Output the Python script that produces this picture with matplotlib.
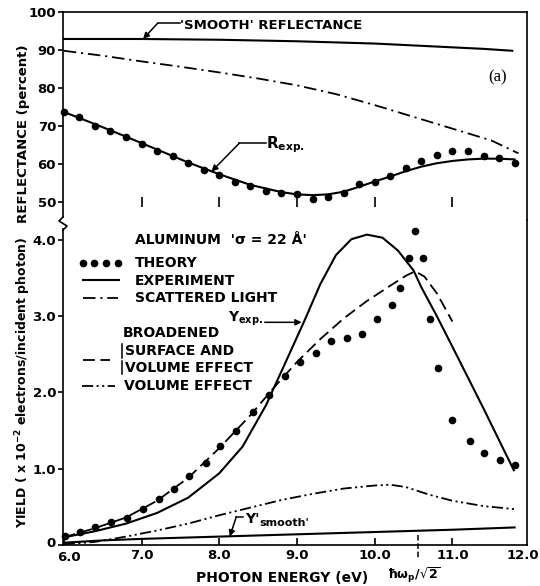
import matplotlib
matplotlib.use("Agg")
import matplotlib.pyplot as plt
from matplotlib.lines import Line2D
from matplotlib.transforms import ScaledTranslation

plt.rcParams["font.family"] = ["DejaVu Sans"]
plt.rcParams["lines.scale_dashes"] = False

# ---- reflectance panel ----
refl_theory_energy = [6.0, 6.2, 6.4, 6.6, 6.8, 7.0, 7.2, 7.4, 7.6, 7.8,
                      8.0, 8.2, 8.4, 8.6, 8.8, 9.0, 9.2, 9.4, 9.6, 9.8,
                      10.0, 10.2, 10.4, 10.6, 10.8, 11.0, 11.2, 11.4, 11.6, 11.8]
refl_theory = [73.8, 72.4, 70.0, 68.8, 67.0, 65.3, 63.5, 62.1, 60.2, 58.4,
               57.1, 55.3, 54.2, 53.0, 52.4, 52.0, 50.8, 51.4, 52.4, 54.7,
               55.3, 56.8, 59.0, 60.8, 62.3, 63.5, 63.4, 62.0, 61.6, 60.3]

refl_exp_energy = [6.0, 6.4, 6.8, 7.2, 7.6, 8.0, 8.4, 8.8, 9.0, 9.2, 9.4, 9.6,
                   9.8, 10.0, 10.2, 10.4, 10.6, 10.8, 11.0, 11.2, 11.4, 11.6, 11.8]
refl_exp = [73.7, 70.5, 67.2, 63.8, 60.4, 57.3, 54.5, 52.6, 52.0, 51.8, 52.0, 52.7,
            54.0, 55.4, 56.7, 58.1, 59.3, 60.2, 60.8, 61.2, 61.4, 61.4, 61.2]

refl_smooth_energy = [6.0, 7.0, 8.0, 9.0, 10.0, 10.5, 11.0, 11.4, 11.77]
refl_smooth = [92.9, 92.9, 92.7, 92.3, 91.7, 91.2, 90.7, 90.3, 89.8]

refl_scatter_energy = [6.0, 6.5, 7.0, 7.5, 8.0, 8.5, 9.0, 9.5, 10.0, 10.5,
                       11.0, 11.5, 11.85]
refl_scatter = [89.8, 88.5, 87.0, 85.6, 84.1, 82.5, 80.7, 78.4, 75.5, 72.4,
                69.3, 66.2, 62.8]

# ---- photoyield panel ----
yield_theory_energy = [6.02, 6.21, 6.40, 6.61, 6.81, 7.02, 7.23, 7.42, 7.61, 7.83,
                       8.01, 8.21, 8.44, 8.64, 8.84, 9.04, 9.25, 9.44, 9.64, 9.84,
                       10.03, 10.22, 10.33, 10.44, 10.52, 10.62, 10.71, 10.81,
                       11.00, 11.22, 11.40, 11.61, 11.81]
yield_theory = [0.12, 0.17, 0.23, 0.30, 0.36, 0.47, 0.60, 0.74, 0.91, 1.08,
                1.30, 1.50, 1.74, 1.97, 2.22, 2.40, 2.52, 2.67, 2.72, 2.77,
                2.96, 3.15, 3.37, 3.76, 4.12, 3.76, 2.97, 2.32,
                1.64, 1.36, 1.21, 1.11, 1.05]

yield_exp_energy = [6.0, 6.4, 6.8, 7.2, 7.6, 8.0, 8.3, 8.6, 8.9, 9.1, 9.3, 9.5,
                    9.7, 9.9, 10.1, 10.3, 10.5, 10.6, 10.8, 11.0, 11.4, 11.79]
yield_exp = [0.10, 0.18, 0.28, 0.42, 0.62, 0.94, 1.29, 1.83, 2.50, 2.95, 3.42, 3.80,
             4.01, 4.07, 4.03, 3.86, 3.60, 3.38, 3.00, 2.60, 1.79, 0.98]

broadened_energy = [6.0, 6.4, 6.8, 7.2, 7.6, 8.0, 8.4, 8.7, 9.0, 9.3, 9.6, 9.9,
                    10.2, 10.4, 10.52, 10.64, 10.8, 11.0]
broadened = [0.10, 0.22, 0.36, 0.58, 0.88, 1.27, 1.70, 2.06, 2.40, 2.70, 2.97, 3.20,
             3.40, 3.53, 3.59, 3.52, 3.30, 2.93]

volume_energy = [6.0, 6.4, 6.8, 7.2, 7.6, 8.0, 8.4, 8.8, 9.2, 9.6, 10.0, 10.2,
                 10.4, 10.7, 11.0, 11.4, 11.8]
volume = [0.01, 0.04, 0.11, 0.19, 0.28, 0.39, 0.49, 0.59, 0.67, 0.74, 0.78, 0.79,
          0.76, 0.66, 0.58, 0.51, 0.47]

smooth_yield_energy = [6.0, 6.5, 7.0, 8.0, 9.0, 10.0, 11.0, 11.8]
smooth_yield = [0.03, 0.06, 0.08, 0.11, 0.14, 0.17, 0.20, 0.23]

# ---- axes ----
x_ticks = [6.0, 7.0, 8.0, 9.0, 10.0, 11.0]
x_tick_labels = ["6.0", "7.0", "8.0", "9.0", "10.0", "11.0"]
refl_ticks = [50, 60, 70, 80, 90, 100]
refl_tick_labels = ["50", "60", "70", "80", "90", "100"]
yield_ticks = [0, 1, 2, 3, 4]
yield_tick_labels = ["0", "1.0", "2.0", "3.0", "4.0"]
plasmon_energy = 10.56  # hbar*omega_p / sqrt(2)

LW = 1.5
DASH_DOT = (0, (9, 3.5, 1.5, 3.5))
DASHED = (0, (8.5, 4))
DASH_DOT_DOT = (0, (8, 2.5, 1.5, 2.5, 1.5, 2.5))
BOLD = dict(fontweight="bold", color="black")
FS = 10

fig = plt.figure(figsize=(5.4, 5.86), dpi=100)
ax1 = fig.add_axes([0.1167, 0.6246, 0.8593, 0.3549])
ax2 = fig.add_axes([0.1167, 0.0700, 0.8593, 0.5546])

for ax in (ax1, ax2):
    ax.set_xlim(5.99, 11.96)
    for s in ax.spines.values():
        s.set_linewidth(1.2)
ax1.set_ylim(45.26, 100)
ax2.set_ylim(0, 4.262)
ax1.spines["bottom"].set_visible(False)
ax2.spines["top"].set_visible(False)
ax1.spines["left"].set_bounds(46.0, 100)
ax2.spines["left"].set_bounds(0, 4.14)

# broken-axis squiggle on the left spine
brk = [(63, 217), (59, 221), (67, 226), (63, 230)]
fig.add_artist(Line2D([p[0] / 540 for p in brk], [1 - p[1] / 586 for p in brk],
                      transform=fig.transFigure, color="black", lw=1.2))

ax1.set_yticks(refl_ticks)
ax1.set_yticklabels(refl_tick_labels)
ax1.tick_params(axis="y", direction="out", length=3.5, width=1.2, pad=1.5,
                labelsize=9.5)
ax1.tick_params(axis="x", bottom=False, labelbottom=False)
ax1.vlines(x_ticks[1:], 48.8, 51.2, color="black", lw=1.2)

ax2.set_yticks(yield_ticks)
ax2.set_yticklabels(yield_tick_labels)
ax2.set_xticks(x_ticks)
ax2.set_xticklabels(x_tick_labels)
ax2.tick_params(axis="y", direction="out", length=3.5, width=1.2, pad=1.5,
                labelsize=9.5)
ax2.tick_params(axis="x", direction="in", length=5, width=1.2, pad=3,
                labelsize=9.5)
for lab in ax1.get_yticklabels() + ax2.get_yticklabels() + ax2.get_xticklabels():
    lab.set_fontweight("bold")

# nudge the corner labels apart
first = ax2.xaxis.get_major_ticks()[0].label1
first.set_transform(first.get_transform() + ScaledTranslation(4 / 72, -1 / 72, fig.dpi_scale_trans))
zero = ax2.yaxis.get_major_ticks()[0].label1
zero.set_transform(zero.get_transform() + ScaledTranslation(0, 2 / 72, fig.dpi_scale_trans))

# last energy label sits just past the right spine
ax2.annotate("12.0", xy=(1, 0), xycoords="axes fraction",
             xytext=(8.6, -3), textcoords="offset points", ha="right", va="top",
             fontsize=9.5, annotation_clip=False, **BOLD)

# ---- reflectance curves ----
ax1.plot(refl_smooth_energy, refl_smooth, color="black", lw=LW)
ax1.plot(refl_scatter_energy, refl_scatter, color="black", lw=1.3, ls=DASH_DOT)
ax1.plot(refl_exp_energy, refl_exp, color="black", lw=LW)
ax1.plot(refl_theory_energy, refl_theory, "o", color="black", ms=4.5, clip_on=False)

ax1.text(7.49, 96.4, "'SMOOTH' REFLECTANCE", ha="left", va="center", fontsize=9.5, **BOLD)
ax1.plot([7.49, 7.21], [97.1, 97.1], color="black", lw=1.1)
ax1.annotate("", xy=(7.02, 92.9), xytext=(7.21, 97.1),
             arrowprops=dict(arrowstyle="-|>", color="black", lw=1.1,
                             mutation_scale=9, shrinkA=0, shrinkB=0))

ax1.text(8.60, 65.0, r"$\mathbf{R}_{\mathbf{exp.}}$", ha="left", va="center", fontsize=11)
ax1.plot([8.60, 8.26], [65.5, 65.5], color="black", lw=1.1)
ax1.annotate("", xy=(7.90, 58.0), xytext=(8.26, 65.5),
             arrowprops=dict(arrowstyle="-|>", color="black", lw=1.1,
                             mutation_scale=9, shrinkA=0, shrinkB=0))

ax1.text(11.58, 82.9, "(a)", family="Liberation Serif", fontsize=12,
         ha="center", va="center", color="black")

# ---- photoyield curves ----
ax2.plot(smooth_yield_energy, smooth_yield, color="black", lw=LW)
ax2.plot(volume_energy, volume, color="black", lw=1.3, ls=DASH_DOT_DOT)
ax2.plot(broadened_energy, broadened, color="black", lw=1.3, ls=DASHED)
ax2.plot(yield_exp_energy, yield_exp, color="black", lw=LW)
ax2.plot(yield_theory_energy, yield_theory, "o", color="black", ms=4.5, clip_on=False)

# plasmon marker on the energy axis
ax2.plot([plasmon_energy, plasmon_energy], [0.13, -0.20], color="black", lw=1.1,
         ls=(0, (4, 2)), clip_on=False)

# legend block
ax2.text(6.91, 4.0, "ALUMINUM  'σ = 22 Å'", ha="left", va="center", fontsize=FS, **BOLD)
ax2.plot([6.244, 6.386, 6.54, 6.695], [3.70] * 4, "o", color="black", ms=4.5)
ax2.text(6.91, 3.70, "THEORY", ha="left", va="center", fontsize=FS, **BOLD)
ax2.plot([6.244, 6.707], [3.475, 3.475], color="black", lw=LW)
ax2.text(6.91, 3.46, "EXPERIMENT", ha="left", va="center", fontsize=FS, **BOLD)
ax2.plot([6.244, 6.70], [3.24, 3.24], color="black", lw=1.3, ls=DASH_DOT)
ax2.text(6.91, 3.24, "SCATTERED LIGHT", ha="left", va="center", fontsize=FS, **BOLD)
ax2.text(6.76, 2.78, "BROADENED", ha="left", va="center", fontsize=FS, **BOLD)
ax2.plot([6.75, 6.75], [2.45, 2.63], color="black", lw=1.1)
ax2.plot([6.75, 6.75], [2.24, 2.41], color="black", lw=1.1)
ax2.text(6.79, 2.54, "SURFACE AND", ha="left", va="center", fontsize=FS, **BOLD)
ax2.text(6.79, 2.32, "VOLUME EFFECT", ha="left", va="center", fontsize=FS, **BOLD)
ax2.plot([6.244, 6.59], [2.43, 2.43], color="black", lw=1.3, ls=DASHED)
ax2.plot([6.23, 6.656], [2.085, 2.085], color="black", lw=1.3, ls=DASH_DOT_DOT)
ax2.text(6.77, 2.085, "VOLUME EFFECT", ha="left", va="center", fontsize=FS, **BOLD)

# curve labels with leaders
ax2.text(8.56, 2.97, r"$\mathbf{Y}_{\mathbf{exp.}}$", ha="right", va="center", fontsize=10)
ax2.annotate("", xy=(9.06, 2.92), xytext=(8.585, 2.92),
             arrowprops=dict(arrowstyle="-|>", color="black", lw=1.1,
                             mutation_scale=9, shrinkA=0, shrinkB=0))

ax2.text(8.33, 0.34, "Y'", ha="left", va="center", fontsize=10, **BOLD)
ax2.text(8.52, 0.29, "smooth'", ha="left", va="center", fontsize=8, **BOLD)
ax2.plot([8.30, 8.22], [0.37, 0.37], color="black", lw=1.1)
ax2.annotate("", xy=(8.135, 0.11), xytext=(8.22, 0.37),
             arrowprops=dict(arrowstyle="-|>", color="black", lw=1.1,
                             mutation_scale=9, shrinkA=0, shrinkB=0))

# axis titles
fig.text(0.043, 0.771, "REFLECTANCE (percent)", rotation=90, ha="center",
         va="center", fontsize=9.5, **BOLD)
fig.text(0.043, 0.348, r"YIELD ( x 10$^{\mathbf{-2}}$ electrons/incident photon)",
         rotation=90, ha="center", va="center", fontsize=9, **BOLD)
fig.text(0.523, 0.0137, "PHOTON ENERGY (eV)", ha="center", va="center",
         fontsize=10, **BOLD)
fig.text(0.767, 0.019, r"$\mathbf{\hbar\omega_p/\sqrt{2}}$", ha="center",
         va="center", fontsize=9, color="black")

fig.savefig("out.png", dpi=100, facecolor="white")
